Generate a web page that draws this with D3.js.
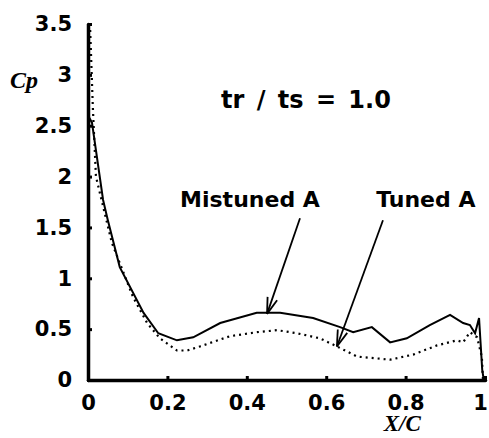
<!DOCTYPE html>
<html>
<head>
<meta charset="utf-8">
<script src="https://cdn.jsdelivr.net/npm/d3@7"></script>
<style>
body { margin: 0; background: #fff; }
text { font-family: "DejaVu Sans", "Liberation Sans", sans-serif; font-weight: bold; fill: #000; }
</style>
</head>
<body>
<div id="chart"></div>
<script>
// chord position X/C and pressure coefficient Cp
var mistunedX = [0, 0.01, 0.038, 0.05, 0.08, 0.14, 0.177, 0.224, 0.265, 0.333, 0.425, 0.484, 0.567, 0.635, 0.668, 0.715, 0.761, 0.803, 0.861, 0.912, 0.945, 0.962, 0.975, 0.985, 0.993, 0.997];
var mistunedCp = [2.6, 2.53, 1.77, 1.57, 1.11, 0.66, 0.46, 0.39, 0.42, 0.56, 0.66, 0.66, 0.61, 0.52, 0.47, 0.52, 0.37, 0.41, 0.54, 0.64, 0.56, 0.54, 0.46, 0.61, 0.1, 0];
var tunedX = [0.005, 0.012, 0.02, 0.06, 0.113, 0.149, 0.181, 0.224, 0.25, 0.282, 0.357, 0.425, 0.476, 0.526, 0.584, 0.627, 0.678, 0.761, 0.819, 0.879, 0.929, 0.945, 0.962, 0.98, 0.992, 0.995];
var tunedCp = [3.5, 2.7, 2.0, 1.35, 0.82, 0.56, 0.41, 0.29, 0.29, 0.33, 0.43, 0.47, 0.49, 0.46, 0.41, 0.33, 0.23, 0.2, 0.25, 0.34, 0.39, 0.37, 0.47, 0.42, 0.23, 0];
var xTicks = [0, 0.2, 0.4, 0.6, 0.8, 1];
var yTicks = [0, 0.5, 1, 1.5, 2, 2.5, 3, 3.5];

var margin = {top: 24, right: 4, bottom: 58, left: 88},
  width = 489 - margin.left - margin.right,
  height = 438 - margin.top - margin.bottom;

var svg = d3.select("#chart")
  .append("svg")
  .attr("width", 489)
  .attr("height", 438)
  .append("g")
  .attr("transform", "translate(" + margin.left + "," + margin.top + ")");

var x = d3.scaleLinear().domain([0, 1]).range([0, width]);
var y = d3.scaleLinear().domain([0, 3.5]).range([height, 0]);

var xAxis = svg.append("g")
  .attr("transform", "translate(0," + height + ")")
  .call(d3.axisBottom(x).tickValues(xTicks).tickSizeInner(-4).tickSizeOuter(0).tickPadding(12)
    .tickFormat(function(d) { return d === 0 || d === 1 ? d3.format("d")(d) : d3.format(".1f")(d); }));
var yAxis = svg.append("g")
  .call(d3.axisLeft(y).tickValues(yTicks).tickSizeInner(-4).tickSizeOuter(0).tickPadding(16)
    .tickFormat(function(d) { return d % 1 === 0 ? d3.format("d")(d) : d3.format(".1f")(d); }));

[xAxis, yAxis].forEach(function(a) {
  a.select(".domain").attr("stroke-width", 3.5).attr("stroke", "#000").attr("stroke-linecap", "round");
  a.selectAll(".tick line").attr("stroke-width", 3).attr("stroke", "#000");
  a.selectAll(".tick text").style("font-size", "21px");
});
xAxis.selectAll(".tick text").attr("dy", "0.85em");
xAxis.selectAll(".tick text").filter(function(d) { return d === 1; }).attr("dx", "-5px");

var line = d3.line()
  .x(function(d) { return x(d[0]); })
  .y(function(d) { return y(d[1]); });

svg.append("path")
  .datum(d3.zip(tunedX, tunedCp))
  .attr("fill", "none")
  .attr("stroke", "#000")
  .attr("stroke-width", 2.2)
  .attr("stroke-dasharray", "2,4")
  .attr("d", line);

svg.append("path")
  .datum(d3.zip(mistunedX, mistunedCp))
  .attr("fill", "none")
  .attr("stroke", "#000")
  .attr("stroke-width", 2)
  .attr("d", line);

// annotation arrows
function arrow(x1, y1, x2, y2) {
  var g = svg.append("g").attr("stroke", "#000").attr("stroke-width", 1.8).attr("fill", "none");
  g.append("line").attr("x1", x(x1)).attr("y1", y(y1)).attr("x2", x(x2)).attr("y2", y(y2));
  var a = Math.atan2(y(y2) - y(y1), x(x2) - x(x1));
  [0.3, -0.3].forEach(function(s) {
    g.append("line")
      .attr("x1", x(x2)).attr("y1", y(y2))
      .attr("x2", x(x2) - 17 * Math.cos(a + s))
      .attr("y2", y(y2) - 17 * Math.sin(a + s));
  });
}
arrow(0.534, 1.59, 0.451, 0.65);
arrow(0.743, 1.57, 0.627, 0.33);

svg.append("text").attr("x", x(0.549)).attr("y", y(2.675)).attr("text-anchor", "middle")
  .style("font-size", "24px").style("word-spacing", "4px").text("tr / ts = 1.0");
svg.append("text").attr("x", x(0.408)).attr("y", y(1.70)).attr("text-anchor", "middle")
  .style("font-size", "22px").text("Mistuned A");
svg.append("text").attr("x", x(0.851)).attr("y", y(1.70)).attr("text-anchor", "middle")
  .style("font-size", "22px").text("Tuned A");

svg.append("text").attr("x", -78).attr("y", y(2.87))
  .style("font-family", "'Liberation Serif', serif").style("font-style", "italic")
  .style("font-size", "24px").text("Cp");
svg.append("text").attr("x", x(0.745)).attr("y", height + 51)
  .style("font-family", "'Liberation Serif', serif").style("font-style", "italic")
  .style("font-size", "23px").text("X/C");
</script>
</body>
</html>
